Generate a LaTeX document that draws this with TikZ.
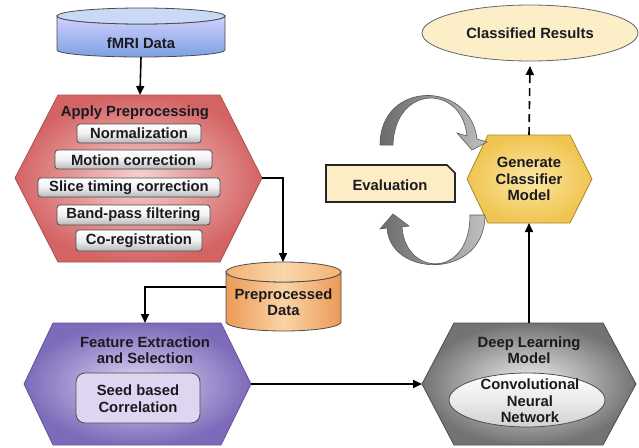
\documentclass[tikz,border=0pt]{standalone}
\usepackage{fontspec}
\setmainfont{Liberation Sans}
\usetikzlibrary{arrows.meta}
\definecolor{txt}{HTML}{1A1A20}
\tikzset{
  lbl/.style={font=\fontsize{14.8}{16.5}\selectfont\bfseries, text=txt, align=center, inner sep=0pt},
  conn/.style={line width=1.6pt, draw=black, -{Triangle[length=9pt,width=8pt]}},
  btn/.style={draw=black!70, line width=0.8pt, rounded corners=3pt, top color=white, bottom color=black!28, middle color=black!6},
  hexline/.style={line width=0.8pt},
  curv/.style={draw=black!65, line width=0.6pt, left color=black!58, right color=black!25},
}
\begin{document}
\begin{tikzpicture}[x=1pt,y=-1pt]
\useasboundingbox (0,0) rectangle (639,447);

% ---------- fMRI cylinder ----------
\path[draw=black!70, line width=0.8pt, top color=blue!18!white, bottom color={rgb,255:red,125;green,160;blue,226}]
  (57,16) -- (57,50) arc[start angle=180, end angle=0, x radius=84, y radius=7] -- (225,16)
  arc[start angle=0, end angle=180, x radius=84, y radius=8] -- cycle;
\path[draw=black!70, line width=0.8pt, fill={rgb,255:red,200;green,218;blue,246}] (141,16) ellipse[x radius=84, y radius=8];
\node[lbl] (fmri) at (141,43) {fMRI Data};
\coordinate (fmriB) at (141,57);

% ---------- Apply Preprocessing hexagon ----------
\path[hexline, draw={rgb,255:red,170;green,80;blue,80}, inner color={rgb,255:red,246;green,210;blue,210}, outer color={rgb,255:red,212;green,100;blue,100}]
  (58,95) -- (220,95) -- (262,178) -- (220,262) -- (58,262) -- (15,178) -- cycle;
\coordinate (preT) at (140,95);
\coordinate (preR) at (262,178);
\node[lbl] (apply) at (135,113) {Apply Preprocessing};
\path[btn] (77,124) rectangle (201,143);
\node[lbl] (norm) at (139,133.5) {Normalization};
\path[btn] (55,150) rectangle (212,169);
\node[lbl] (motion) at (133.5,160) {Motion correction};
\path[btn] (38,178) rectangle (220,197);
\node[lbl] (slice) at (129,187.5) {Slice timing correction};
\path[btn] (57,205) rectangle (210,225);
\node[lbl] (band) at (133.5,215) {Band-pass filtering};
\path[btn] (76,230) rectangle (202,251);
\node[lbl] (coreg) at (139,240.5) {Co-registration};

% ---------- Preprocessed Data cylinder ----------
\path[draw=black!70, line width=0.8pt, left color={rgb,255:red,236;green,154;blue,86}, right color={rgb,255:red,236;green,154;blue,86}, middle color={rgb,255:red,250;green,212;blue,165}]
  (226,272) -- (226,322) arc[start angle=180, end angle=0, x radius=57.5, y radius=9] -- (341,272)
  arc[start angle=0, end angle=180, x radius=57.5, y radius=10] -- cycle;
\path[draw=black!70, line width=0.8pt, left color={rgb,255:red,242;green,178;blue,115}, right color={rgb,255:red,242;green,178;blue,115}, middle color={rgb,255:red,250;green,214;blue,170}] (283.5,272) ellipse[x radius=57.5, y radius=10];
\node[lbl] (ppd) at (283.5,302) {Preprocessed\\Data};
\coordinate (ppdT) at (283,262);
\coordinate (ppdL) at (226,287);

% ---------- Feature Extraction hexagon ----------
\path[hexline, draw={rgb,255:red,100;green,85;blue,150}, inner color={rgb,255:red,222;green,215;blue,242}, outer color={rgb,255:red,125;green,106;blue,186}]
  (53,323) -- (221,323) -- (251,384) -- (221,445) -- (53,445) -- (24,384) -- cycle;
\coordinate (featT) at (145,323);
\coordinate (featR) at (251,384);
\node[lbl] (feat) at (145,350) {Feature Extraction\\and Selection};
\path[draw=black!70, line width=0.8pt, rounded corners=9pt, fill={rgb,255:red,222;green,214;blue,240}] (76,373) rectangle (200,423);
\node[lbl] (seed) at (138,398.5) {Seed based\\Correlation};

% ---------- Deep Learning hexagon ----------
\path[hexline, draw=black!70, inner color=black!5, outer color=black!55]
  (454,323) -- (603,323) -- (636,384) -- (603,445) -- (454,445) -- (422,384) -- cycle;
\coordinate (deepL) at (422,384);
\coordinate (deepT) at (529,323);
\node[lbl] (deep) at (529,350) {Deep Learning\\Model};
\path[draw=black!70, line width=0.8pt, top color=white, bottom color=black!18, middle color=black!8] (527,400) ellipse[x radius=78, y radius=27];
\node[lbl] (cnn) at (530,401) {Convolutional\\Neural\\Network};

% ---------- Generate Classifier hexagon ----------
\path[hexline, draw={rgb,255:red,170;green,135;blue,50}, inner color={rgb,255:red,252;green,232;blue,165}, outer color={rgb,255:red,240;green,196;blue,80}]
  (488,135) -- (570,135) -- (592,179) -- (570,223) -- (488,223) -- (467,179) -- cycle;
\coordinate (genT) at (529,135);
\coordinate (genB) at (529,223);
\node[lbl] (gen) at (529,179) {Generate\\Classifier\\Model};

% ---------- Classified Results ----------
\path[draw=black!60, line width=0.8pt, fill={rgb,255:red,252;green,239;blue,200}] (530,33) ellipse[x radius=108, y radius=28];
\node[lbl] (res) at (530,33) {Classified Results};
\coordinate (resB) at (530,66);

% ---------- Evaluation ----------
\path[draw=black!85, line width=1.6pt, fill={rgb,255:red,252;green,237;blue,196}]
  (326,165) -- (447,165) -- (455,173) -- (455,202) -- (326,202) -- cycle;
\node[lbl] (eval) at (390,185) {Evaluation};

% ---------- curved arrows ----------
\path[curv]
  (380,145) .. controls (380,80) and (470,80) .. (477,139) -- (487,142) -- (472,150) -- (457,133) -- (467,136)
  .. controls (462,84) and (395,84) .. (393,145) -- cycle;
\path[curv]
  (470,215) -- (485,215) .. controls (485,280) and (390,278) .. (387,228) -- (380,229) -- (393,214) -- (409,226) -- (402,227)
  .. controls (405,276) and (470,280) .. (470,215) -- cycle;

% ---------- connectors ----------
\draw[conn] (fmriB) -- (preT);
\draw[conn] (preR) -| (ppdT);
\draw[conn] (ppdL) -| (featT);
\draw[conn] (featR) -- (deepL);
\draw[conn] (deepT) -- (genB);
\draw[conn, dashed, dash pattern=on 8pt off 5pt] (genT) -- (resB);
\end{tikzpicture}
\end{document}
